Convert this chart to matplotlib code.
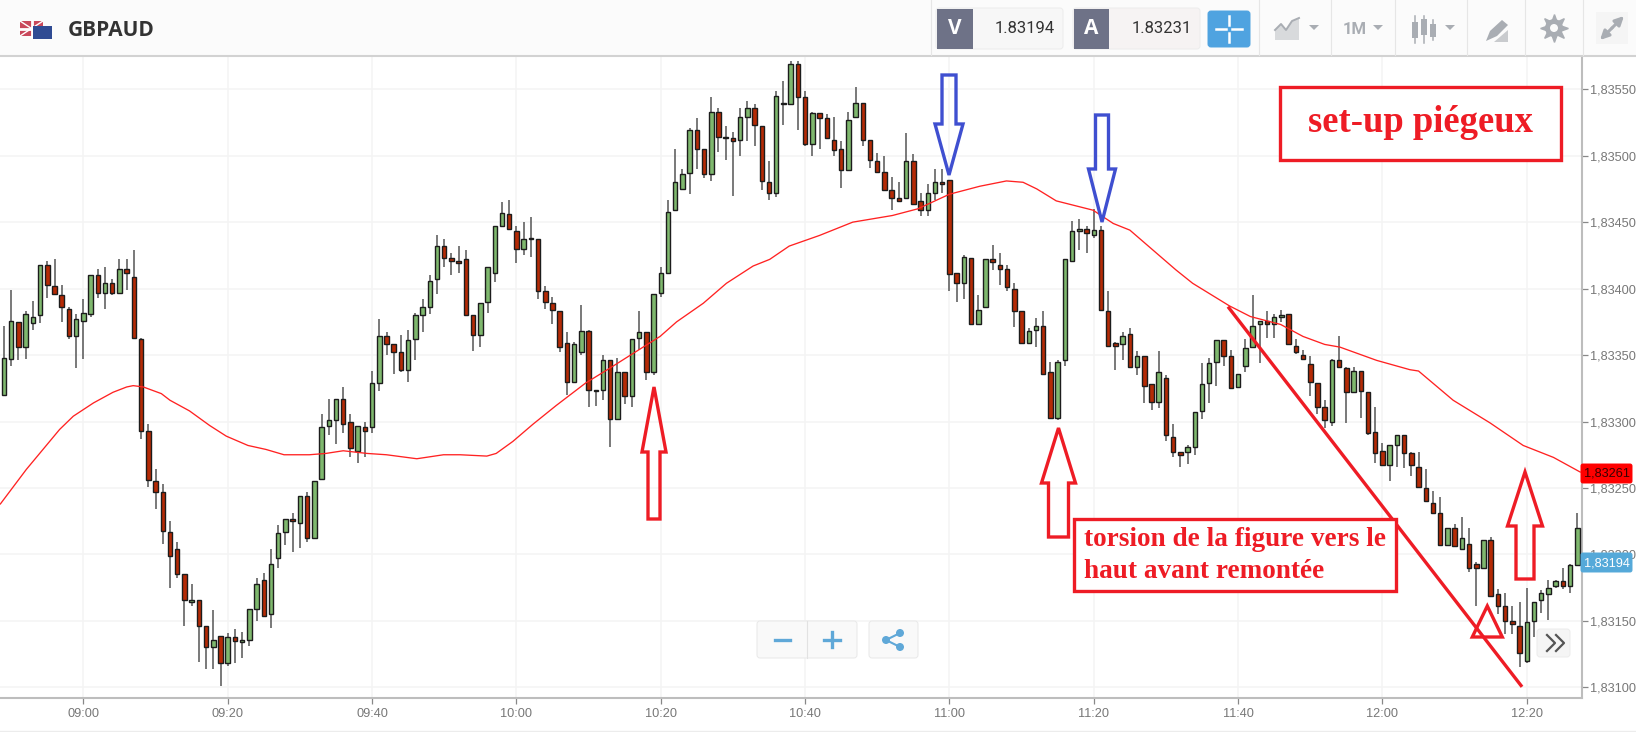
import numpy as np
import matplotlib
matplotlib.use('Agg')
import matplotlib.pyplot as plt
from matplotlib.patches import Rectangle, Polygon, Circle, FancyBboxPatch

# prices are in points above 1.83000 (1 point = 0.00001), ten candles a row
opens = [320,347,375,356,374,380,418,402,395,385,
         364,376,381,410,397,404,397,415,409,362,
         293,255,247,217,204,185,164,166,146,130,
         139,118,138,134,136,159,181,155,197,217,
         227,224,244,212,257,297,301,317,300,278,
         296,296,329,364,358,352,339,362,380,386,
         407,432,423,421,422,380,365,390,412,447,
         456,443,430,437,437,398,389,383,359,330,
         352,368,323,324,346,302,337,319,363,367,
         337,397,412,459,475,487,519,505,486,533,
         513,513,512,529,536,522,480,472,539,539,
         569,544,509,532,528,512,505,489,529,540,
         512,496,488,474,468,468,496,466,459,472,
         480,482,412,404,423,373,386,422,418,415,
         400,383,359,369,372,337,303,346,421,443,
         445,440,444,383,359,358,366,341,349,328,
         315,333,288,277,277,281,308,329,345,361,
         349,326,342,356,373,376,373,379,381,357,
         350,343,329,311,300,346,340,322,338,322,
         292,278,267,282,290,276,266,250,239,231,
         207,220,204,208,193,190,211,170,161,150,
         146,120,150,166,170,176,180,176,192]
highs = [372,399,375,383,391,418,421,422,403,386,
         381,392,410,415,416,407,422,422,429,363,
         298,264,253,225,209,185,178,166,146,158,
         139,141,144,142,159,182,186,204,222,227,
         231,244,247,255,306,317,317,326,306,297,
         300,338,377,367,358,365,369,382,392,410,
         440,437,427,432,429,380,389,416,447,465,
         467,447,450,454,437,402,394,383,367,360,
         388,369,324,350,346,348,337,362,383,367,
         396,416,467,505,490,521,528,505,544,536,
         522,518,536,541,539,522,496,549,556,571,
         571,549,533,532,531,529,511,533,552,540,
         512,502,500,484,480,517,501,472,479,490,
         490,482,412,425,423,395,422,433,427,418,
         404,383,370,378,383,345,346,422,451,452,
         447,460,447,398,360,367,370,353,349,328,
         353,335,298,277,282,307,344,348,361,361,
         354,336,362,395,376,383,381,384,381,362,
         354,349,329,316,347,364,341,341,338,322,
         311,284,282,290,290,277,277,264,248,243,
         220,223,228,220,194,211,213,174,171,161,
         164,175,164,173,181,181,190,193,231]
lows = [320,342,346,347,369,374,393,396,375,362,
        340,347,379,393,385,395,396,399,363,287,
        251,234,208,175,182,146,161,119,114,114,
        101,116,118,122,131,150,154,145,190,207,
        202,205,209,212,257,290,283,291,273,269,
        273,291,323,350,336,337,330,346,367,381,
        396,416,410,412,380,353,356,382,405,447,
        445,419,425,424,392,385,373,352,320,329,
        350,311,312,316,281,302,313,311,354,331,
        335,394,412,459,475,471,490,483,481,503,
        497,470,500,511,507,474,467,469,523,538,
        519,507,500,505,513,500,476,489,529,507,
        491,488,474,459,465,468,464,455,455,467,
        472,398,390,392,373,373,386,414,403,398,
        371,359,358,356,336,303,301,342,420,429,
        427,438,384,357,339,346,341,335,314,309,
        310,285,273,266,268,275,302,314,327,342,
        325,326,337,355,344,363,363,375,358,351,
        347,319,306,295,297,341,299,322,303,290,
        269,267,255,266,265,259,251,240,231,207,
        207,206,203,187,161,190,169,155,140,140,
        115,118,138,156,151,175,174,171,192]
closes = [348,376,356,381,379,418,403,396,386,364,
          377,382,410,397,404,397,415,412,363,293,
          256,247,218,199,185,166,166,146,130,136,
          118,138,135,136,159,178,154,193,216,227,
          225,244,212,255,296,301,317,298,280,297,
          293,329,364,358,352,339,361,380,386,406,
          432,423,421,419,380,365,389,416,447,457,
          445,430,437,437,398,390,384,356,330,358,
          368,324,324,346,302,337,319,362,367,337,
          396,412,458,480,486,519,505,486,533,514,
          513,511,529,536,523,481,472,545,540,569,
          544,509,532,528,513,504,489,527,540,512,
          497,488,474,468,466,496,464,459,472,480,
          479,411,404,424,373,384,422,420,415,401,
          383,359,368,372,336,303,345,422,443,445,
          442,444,384,357,357,364,341,349,327,315,
          337,290,277,275,281,307,328,344,361,349,
          325,336,355,372,376,373,379,380,358,352,
          347,330,311,301,346,341,322,338,323,291,
          276,267,282,290,276,267,251,240,231,207,
          220,206,212,190,190,211,169,161,150,148,
          126,149,164,171,175,180,176,192,220]

ma_index = [-0.5,1.3,3.1,5.4,7.7,9.6,12.4,15.1,17,17.9,19.3,21.8,23,25.7,28.5,30.8,33.8,36.3,38.8,42.3,
            44.6,47,50.3,53,57.2,60.9,63.2,66.9,68.2,70.5,73.3,76.5,80.6,83.9,87.1,90.9,93.2,96.9,100.1,103.8,
            106.1,108.8,113,117.6,123.1,126.6,131,135.2,138.9,141.2,143.1,145.8,150.9,153.7,156,159.2,162.4,164.7,169.8,172.7,
            176.9,180,183,185.1,190.2,194.8,196,200.8,205.9,210.5,214.7,218.4]
ma_values = [238,251,264,279,294,304,314,322,326,327,326,321,316,308,297,289,282,279,275,275,
             276,278,276,275,272,275,275,274,276,285,298,312,329,340,351,364,375,389,404,417,
             422,432,440,450,455,460,471,477,481,480,475,466,459,449,444,429,414,404,387,379,
             373,364,358,356,346,339,338,316,299,282,273,262]

price_ticks = [1.83100,1.83150,1.83200,1.83250,1.83300,1.83350,1.83400,1.83450,1.83500,1.83550]
time_labels = ['09:00','09:20','09:40','10:00','10:20','10:40','11:00','11:20','11:40','12:00','12:20']
time_index = [11,31,51,71,91,111,131,151,171,191,211]
sell_price = '1.83194'
buy_price = '1.83231'
tag_ma = '1,83261'
tag_last = '1,83194'

W, H = 1636, 732
GREEN = '#7fb86e'
RED = '#b52a05'
MARK = '#ee1c25'
BLUE_MARK = '#3f4fd0'
ICON = '#a9adb3'

fig = plt.figure(figsize=(W/100, H/100), dpi=100, facecolor='white')

# price chart
ax = fig.add_axes([0, 1-698/H, 1582/W, (698-56)/H])
o = 1.83 + np.array(opens)/1e5
h = 1.83 + np.array(highs)/1e5
l = 1.83 + np.array(lows)/1e5
c = 1.83 + np.array(closes)/1e5
xs = np.arange(len(o))
ax.set_xlim(-0.554, 218.65)
ax.set_ylim(1.83092, 1.83575)

ax.vlines(xs, l, h, color='#555555', lw=1.1, zorder=2)
up = c >= o
ax.bar(xs, np.maximum(np.abs(c-o), 1e-5), bottom=np.minimum(o, c), width=0.62,
       color=np.where(up, GREEN, RED), edgecolor='#1c1c1c', lw=1.0, zorder=3)
ax.plot(ma_index, 1.83 + np.array(ma_values)/1e5, color='#ff2222', lw=0.95, zorder=4)

ax.set_yticks(price_ticks)
ax.set_yticklabels([('%.5f' % v).replace('.', ',') for v in price_ticks])
ax.yaxis.tick_right()
ax.set_xticks(time_index)
ax.set_xticklabels(time_labels)
ax.tick_params(axis='both', length=4, width=0.9, color='#888888', labelcolor='#777777',
               labelsize=9.2, pad=3)
ax.tick_params(axis='y', pad=2)
ax.grid(True, color='#f4f4f4', lw=1.1, zorder=0)
ax.set_axisbelow(True)
for s in ['top', 'left']:
    ax.spines[s].set_visible(False)
for s in ['right', 'bottom']:
    ax.spines[s].set_color('#bdbdbd')
    ax.spines[s].set_linewidth(1.5)
for t in ax.get_xticklabels() + ax.get_yticklabels():
    t.set_fontfamily('Liberation Sans')

# everything else is laid out in pixels on top of the chart
ov = fig.add_axes([0, 0, 1, 1], facecolor='none')
ov.set_xlim(0, W)
ov.set_ylim(H, 0)
ov.axis('off')


def box(x0, y0, x1, y1, fc, ec='none', lw=0, z=5):
    ov.add_patch(Rectangle((x0, y0), x1-x0, y1-y0, fc=fc, ec=ec, lw=lw, zorder=z))


def rounded(x0, y0, x1, y1, fc, ec='none', r=3, z=5):
    ov.add_patch(FancyBboxPatch((x0+r, y0+r), x1-x0-2*r, y1-y0-2*r, boxstyle='round,pad=%d' % r,
                                fc=fc, ec=ec, lw=0.7, zorder=z))


def up_arrow(cx, tip, wing, bottom, half_wing, half_stem, col, lw=2.4):
    pts = [(cx, tip), (cx+half_wing, wing), (cx+half_stem, wing), (cx+half_stem, bottom),
           (cx-half_stem, bottom), (cx-half_stem, wing), (cx-half_wing, wing)]
    ov.add_patch(Polygon(pts, closed=True, fc='none', ec=col, lw=lw, joinstyle='miter', zorder=8))


# header
box(0, 0, W, 55, '#fbfbfb')
ov.plot([0, W], [55.7, 55.7], color='#d2d2d2', lw=1.5, zorder=6)
box(20, 21, 43, 36, '#c9485b', z=6)
ov.plot([20, 43], [21, 36], color='white', lw=1, zorder=7)
ov.plot([20, 43], [36, 21], color='white', lw=1, zorder=7)
ov.plot([31.5, 31.5], [21, 36], color='white', lw=2, zorder=7)
ov.plot([20, 43], [28.5, 28.5], color='white', lw=2, zorder=7)
box(33, 26, 52, 39, '#2f4b93', z=8)
ov.text(68, 30, 'GBPAUD', fontsize=15, fontweight='bold', family='Open Sans', color='#333333',
        va='center', ha='left', zorder=8)

rounded(936, 8, 1063, 49, '#f7f7f7', '#ececec')
rounded(1073, 8, 1200, 49, '#f6f3f3', '#ececec')
box(936.5, 8.5, 972.5, 48.5, '#6e7287', z=6)
box(1073.5, 8.5, 1109, 48.5, '#6e7287', z=6)
ov.text(954.5, 28.5, 'V', color='white', fontsize=15, fontweight='bold', family='Open Sans',
        ha='center', va='center', zorder=7)
ov.text(1091, 28.5, 'A', color='white', fontsize=15, fontweight='bold', family='Open Sans',
        ha='center', va='center', zorder=7)
ov.text(1055, 28.5, sell_price, color='#333333', fontsize=12, family='Roboto', ha='right', va='center', zorder=7)
ov.text(1192, 28.5, buy_price, color='#333333', fontsize=12, family='Roboto', ha='right', va='center', zorder=7)
rounded(1208, 11, 1250, 47, '#4fa3e0', '#4fa3e0')
for a, b in [((1216, 29), (1226, 29)), ((1232, 29), (1242, 29)), ((1229, 16), (1229, 25)), ((1229, 33), (1229, 42))]:
    ov.plot([a[0], b[0]], [a[1], b[1]], color='white', lw=1.8, zorder=7)
for x in [930.5, 1258.5, 1331, 1394.5, 1467, 1525, 1582.5]:
    ov.plot([x, x], [0, 55], color='#e6e6e6', lw=0.8, zorder=6)

# toolbar icons
ov.add_patch(Polygon([(1275, 30), (1281, 24), (1286, 30), (1292, 21), (1299, 18), (1299, 40), (1275, 40)],
                     fc='#d8dadc', ec='none', zorder=6))
ov.plot([1275, 1281, 1286, 1292, 1299], [30, 24, 30, 21, 18], color=ICON, lw=1.4, zorder=7)
for x in [1314, 1378, 1450]:
    ov.add_patch(Polygon([(x-5, 25), (x+5, 25), (x, 30)], fc=ICON, ec='none', zorder=6))
ov.text(1355, 29, '1M', color=ICON, fontsize=12, fontweight='bold', family='Roboto', ha='center', va='center', zorder=6)
for x, y0, y1, w0, w1 in [(1415, 22, 38, 16, 43), (1424, 19, 35, 16, 43), (1433, 24, 37, 20, 40)]:
    ov.plot([x, x], [w0, w1], color=ICON, lw=1.1, zorder=6)
    box(x-3, y0, x+3, y1, ICON, z=7)
ov.add_patch(Polygon([(1486, 41), (1490, 31), (1502, 20), (1508, 25), (1497, 36)], fc=ICON, ec='none', zorder=6))
ov.add_patch(Polygon([(1494, 42), (1508, 30), (1508, 42)], fc='#c9cbce', ec='none', zorder=6))
ov.add_patch(Circle((1554, 28), 9, fc=ICON, ec='none', zorder=6))
ov.plot(1554, 28, marker=(8, 1, 0), ms=20, color=ICON, zorder=6)
ov.add_patch(Circle((1554, 28), 4, fc='#fbfbfb', ec='none', zorder=7))
box(1596, 12, 1628, 44, '#f5f5f5', z=6)
ov.annotate('', xy=(1624, 16), xytext=(1612, 28), zorder=7,
            arrowprops=dict(arrowstyle='-|>', color=ICON, lw=2.2, mutation_scale=13, shrinkA=0, shrinkB=0))
ov.annotate('', xy=(1600, 40), xytext=(1612, 28), zorder=7,
            arrowprops=dict(arrowstyle='-|>', color=ICON, lw=2.2, mutation_scale=13, shrinkA=0, shrinkB=0))

# zoom buttons
rounded(757, 621, 857, 658, '#f9f9f9', '#e8e8e8')
ov.plot([807, 807], [621, 658], color='#e2e2e2', lw=0.8, zorder=6)
ov.plot([775, 790], [639.5, 639.5], color='#5fa8d8', lw=2.4, zorder=6)
ov.plot([824, 840], [639.5, 639.5], color='#5fa8d8', lw=2.4, zorder=6)
ov.plot([832, 832], [632, 647], color='#5fa8d8', lw=2.4, zorder=6)
rounded(869, 621, 918, 658, '#f9f9f9', '#e8e8e8')
ov.plot([886, 900], [640, 633], color='#5fa8d8', lw=1.5, zorder=6)
ov.plot([886, 900], [640, 647], color='#5fa8d8', lw=1.5, zorder=6)
for x, y, r in [(886, 640, 4), (900, 633, 4), (900, 647, 4)]:
    ov.add_patch(Circle((x, y), r, fc='#5fa8d8', ec='none', zorder=7))
rounded(1537, 629, 1570, 657, '#f5f5f5', '#ececec')
for x in [1547, 1556]:
    ov.plot([x, x+8, x], [635, 643, 651], color='#555555', lw=1.6, zorder=7)

ov.plot([0, W], [730.5, 730.5], color='#ececec', lw=1, zorder=6)

# price tags
rounded(1581, 464, 1632, 483, '#ff0000', '#ff0000', r=2, z=7)
ov.text(1606.5, 474, tag_ma, color='#3a0000', fontsize=9.2, family='Liberation Sans', ha='center', va='center', zorder=8)
rounded(1581, 553, 1632, 572, '#55a9d9', '#55a9d9', r=2, z=7)
ov.text(1606.5, 563, tag_last, color='white', fontsize=9.2, family='Liberation Sans', ha='center', va='center', zorder=8)

# hand-drawn annotations
up_arrow(654, 387, 452, 519, 12, 6, MARK)
up_arrow(1058.5, 428, 483, 537, 17, 10, MARK)
up_arrow(1525, 472, 526, 579, 17.5, 9, MARK)
up_arrow(949, 175, 124, 75, 14, 7, BLUE_MARK)
up_arrow(1102, 222, 169, 115, 13.5, 6.5, BLUE_MARK)
ov.add_patch(Polygon([(1487.3, 606), (1472.3, 637), (1502.3, 637)], fc='none', ec=MARK, lw=2.4, zorder=8))
ov.plot([1229, 1521], [308, 685.5], color=MARK, lw=2.4, zorder=8)

box(1279.5, 87, 1561, 160, 'white', MARK, 2.4, z=8)
ov.text(1420, 122.5, 'set-up piégeux', color=MARK, fontsize=26.4, fontweight='bold',
        family='Liberation Serif', ha='center', va='center', zorder=9)
box(1074, 519, 1396, 591, 'white', MARK, 2.4, z=8)
ov.text(1084.5, 540, 'torsion de la figure vers le', color=MARK, fontsize=19.6, fontweight='bold',
        family='Liberation Serif', ha='left', va='center', zorder=9)
ov.text(1084.5, 571, 'haut avant remontée', color=MARK, fontsize=19.6, fontweight='bold',
        family='Liberation Serif', ha='left', va='center', zorder=9)

fig.savefig('out.png', dpi=100)
